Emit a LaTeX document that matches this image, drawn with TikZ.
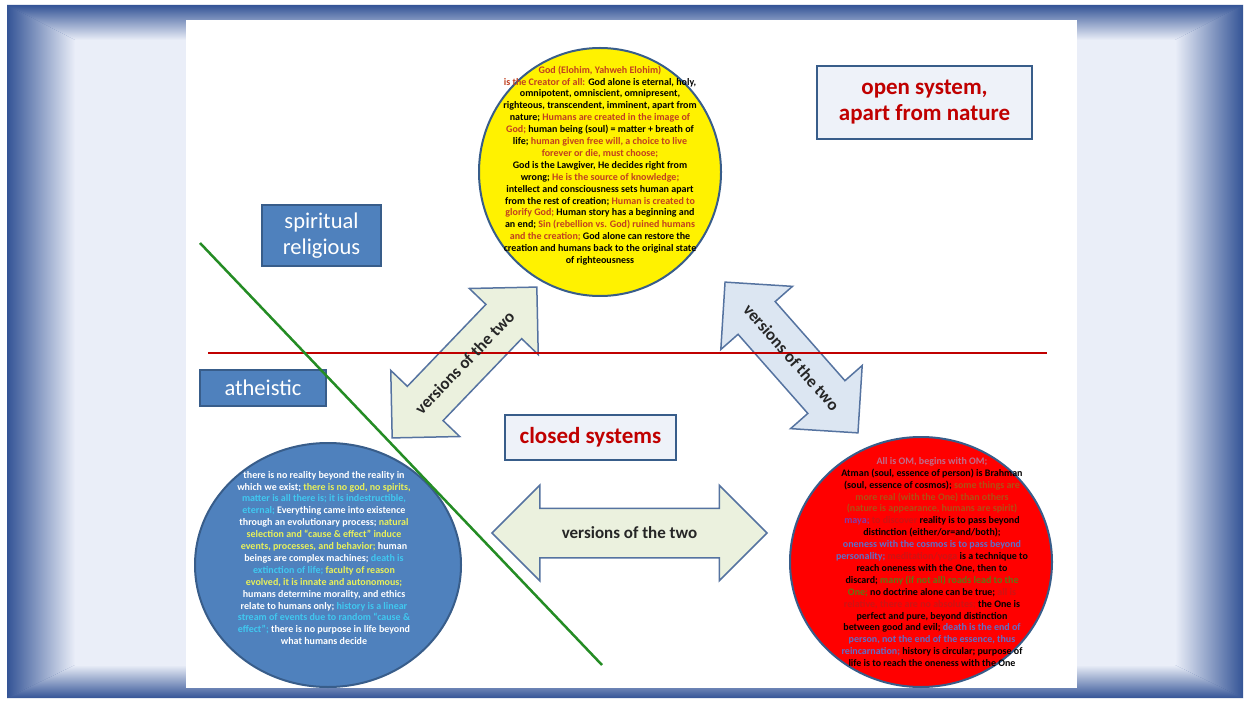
\documentclass[tikz,border=0pt]{standalone}
\usepackage{fontspec}
\setmainfont{Carlito}
\usepackage{tikz}
\usetikzlibrary{shapes.geometric,shapes.arrows}
\definecolor{framedark}{RGB}{52,84,150}
\definecolor{framelight}{RGB}{234,238,248}
\definecolor{boxblue}{RGB}{79,129,189}
\definecolor{edgeblue}{RGB}{56,93,138}
\definecolor{paleblue}{RGB}{238,242,249}
\definecolor{darkred}{RGB}{192,0,0}
\definecolor{godred}{RGB}{192,64,32}
\definecolor{linegreen}{RGB}{36,140,36}
\definecolor{arrowgreen}{RGB}{235,241,222}
\definecolor{arrowblue}{RGB}{220,230,242}
\definecolor{arrowedge}{RGB}{85,115,160}
\definecolor{hiyellow}{RGB}{232,240,90}
\definecolor{hicyan}{RGB}{64,200,240}
\definecolor{ommauve}{RGB}{190,110,140}
\definecolor{ombrown}{RGB}{175,80,20}
\definecolor{ompurple}{RGB}{130,60,170}
\definecolor{omdeep}{RGB}{205,20,20}
\definecolor{omblue}{RGB}{95,110,200}
\definecolor{omgreen}{RGB}{95,120,20}

\begin{document}
\begin{tikzpicture}[x=1pt,y=-1pt,
    disc/.style={ellipse, draw=edgeblue, line width=2pt, inner sep=0pt},
    circtext/.style={align=center, font=\fontsize{10}{11.9}\selectfont\bfseries},
    bluebox/.style={draw=edgeblue, fill=boxblue, line width=1.5pt, text=white,
      align=center, inner sep=0pt, font=\fontsize{22.5}{26}\selectfont},
    palebox/.style={draw=edgeblue, fill=paleblue, line width=1.5pt, text=darkred,
      align=center, inner sep=0pt, font=\fontsize{23}{26}\selectfont\bfseries},
    twoway/.style={double arrow, draw=arrowedge, line width=1.5pt,
      double arrow head extend=23pt, inner xsep=0pt, inner ysep=24pt,
      text height=0pt, text depth=0pt},
    twowaytext/.style={font=\fontsize{17}{17}\selectfont\bfseries, text=black!85}]
    \useasboundingbox (0,0) rectangle (1250,703);
    % Frame
    \fill[framedark] (7,5) rectangle (1243,698);
    \shade[top color=framedark, bottom color=framelight]
      (7,5) -- (1243,5) -- (1175,40) -- (75,40) -- cycle;
    \shade[left color=framedark, right color=framelight]
      (7,5) -- (75,40) -- (75,665) -- (7,698) -- cycle;
    \shade[left color=framelight, right color=framedark]
      (1243,5) -- (1175,40) -- (1175,665) -- (1243,698) -- cycle;
    \shade[top color=framelight, bottom color=framedark]
      (75,665) -- (1175,665) -- (1243,698) -- (7,698) -- cycle;
    \fill[framelight] (75,40) rectangle (1175,665);
    \fill[white] (186,20) rectangle (1077,688);

    % The three views
    \node[disc, fill=yellow, minimum width=242pt, minimum height=248pt] (god) at (600,172) {};
    \node[circtext] (godtxt) at (600,165.5) {%
      \textcolor{godred}{God (Elohim, Yahweh Elohim)}\\
      \textcolor{godred}{is the Creator of all:} God alone is eternal, holy,\\
      omnipotent, omniscient, omnipresent,\\
      righteous, transcendent, imminent, apart from\\
      nature; \textcolor{godred}{Humans are created in the image of}\\
      \textcolor{godred}{God;} human being (soul) = matter + breath of\\
      life; \textcolor{godred}{human given free will, a choice to live}\\
      \textcolor{godred}{forever or die, must choose;}\\
      God is the Lawgiver, He decides right from\\
      wrong; \textcolor{godred}{He is the source of knowledge;}\\
      intellect and consciousness sets human apart\\
      from the rest of creation; \textcolor{godred}{Human is created to}\\
      \textcolor{godred}{glorify God;} Human story has a beginning and\\
      an end; \textcolor{godred}{Sin (rebellion vs. God) ruined humans}\\
      \textcolor{godred}{and the creation;} God alone can restore the\\
      creation and humans back to the original state\\
      of righteousness};

    \node[disc, fill=boxblue, minimum width=266pt, minimum height=244pt] (matter) at (328,565) {};
    \node[circtext, text=white] (mattertxt) at (324,558) {%
      there is no reality beyond the reality in\\
      which we exist; \textcolor{hiyellow}{there is no god, no spirits,}\\
      \textcolor{hicyan}{matter is all there is; it is indestructible,}\\
      \textcolor{hicyan}{eternal;} Everything came into existence\\
      through an evolutionary process; \textcolor{hiyellow}{natural}\\
      \textcolor{hiyellow}{selection and “cause \& effect” induce}\\
      \textcolor{hiyellow}{events, processes, and behavior;} human\\
      beings are complex machines; \textcolor{hicyan}{death is}\\
      \textcolor{hicyan}{extinction of life;} \textcolor{hiyellow}{faculty of reason}\\
      \textcolor{hiyellow}{evolved, it is innate and autonomous;}\\
      humans determine morality, and ethics\\
      relate to humans only; \textcolor{hicyan}{history is a linear}\\
      \textcolor{hicyan}{stream of events due to random “cause \&}\\
      \textcolor{hicyan}{effect”;} there is no purpose in life beyond\\
      what humans decide};

    \node[disc, fill=red, minimum width=262pt, minimum height=250pt] (om) at (921,562) {};
    \node[circtext] (omtxt) at (932,562) {%
      \textcolor{ommauve}{All is OM, begins with OM;}\\
      Atman (soul, essence of person) is Brahman\\
      (soul, essence of cosmos); \textcolor{ombrown}{some things are}\\
      \textcolor{ombrown}{more real (with the One) than others}\\
      \textcolor{ombrown}{(nature is appearance, humans are spirit)}\\
      \textcolor{ompurple}{maya;} \textcolor{omdeep}{to discover} reality is to pass beyond\\
      distinction (either/or=and/both);\\
      \textcolor{omblue}{oneness with the cosmos is to pass beyond}\\
      \textcolor{omblue}{personality;} \textcolor{omdeep}{meditation/yoga} is a technique to\\
      reach oneness with the One, then to\\
      discard; \textcolor{omgreen}{many (if not all) roads lead to the}\\
      \textcolor{omgreen}{One;} no doctrine alone can be true; \textcolor{omdeep}{all is}\\
      \textcolor{omdeep}{relative, there are no absolutes;} the One is\\
      perfect and pure, beyond distinction\\
      between good and evil; \textcolor{omblue}{death is the end of}\\
      \textcolor{omblue}{person, not the end of the essence, thus}\\
      \textcolor{omblue}{reincarnation;} history is circular; purpose of\\
      life is to reach the oneness with the One};

    % Labels
    \node[palebox, minimum width=215pt, minimum height=73pt] (open) at (924.5,102.5) {open system,\\apart from nature};
    \node[bluebox, minimum width=119pt, minimum height=61pt] (spirit) at (321.5,235.5) {spiritual\\religious};
    \node[bluebox, minimum width=126pt, minimum height=36pt] (athe) at (263,388) {atheistic};
    \node[palebox, minimum width=171pt, minimum height=45pt] (closed) at (590.5,437.5) {closed systems};

    % Versions of the two
    \node[twoway, fill=arrowgreen, minimum height=209pt, rotate=46.2] (leftarr) at (464.5,362.5) {};
    \node[twoway, fill=arrowblue, minimum height=201pt, rotate=-48.6] (rightarr) at (791.5,357.5) {};
    \node[twoway, fill=arrowgreen, minimum height=275pt] (lowarr) at (629.5,533) {};

    % Dividing lines
    \coordinate (redW) at (208,353);
    \coordinate (redE) at (1047,353);
    \draw[darkred, line width=2.5pt] (redW) -- (redE);
    \coordinate (greenN) at (200,243);
    \coordinate (greenS) at (602,665);
    \draw[linegreen, line width=2.5pt] (greenN) -- (greenS);

    \node[twowaytext, rotate=46.2] at (leftarr.center) {versions of the two};
    \node[twowaytext, rotate=-48.6] at (rightarr.center) {versions of the two};
    \node[twowaytext] at (lowarr.center) {versions of the two};
\end{tikzpicture}
\end{document}
